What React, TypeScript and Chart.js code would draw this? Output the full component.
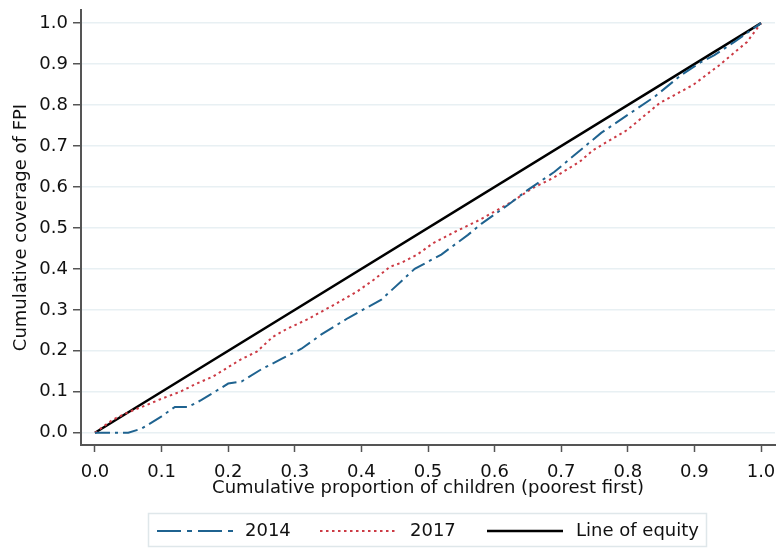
import React, { useEffect, useRef } from "react";
import { Chart, registerables } from "chart.js";

Chart.register(...registerables);

const x2014 = [0, 0.02, 0.05, 0.07, 0.1, 0.12, 0.14, 0.16, 0.18, 0.2, 0.22, 0.25, 0.28, 0.31, 0.34, 0.38, 0.43, 0.46, 0.48, 0.52, 0.56, 0.58, 0.62, 0.65, 0.69, 0.72, 0.76, 0.8, 0.84, 0.88, 0.91, 0.93, 0.96, 1.0];
const y2014 = [0, 0.0, 0.0, 0.01, 0.04, 0.063, 0.063, 0.08, 0.1, 0.12, 0.125, 0.155, 0.18, 0.205, 0.24, 0.28, 0.325, 0.37, 0.4, 0.435, 0.483, 0.51, 0.556, 0.593, 0.637, 0.678, 0.732, 0.776, 0.82, 0.873, 0.905, 0.922, 0.954, 1.0];

const x2017 = [0, 0.027, 0.05, 0.078, 0.1, 0.128, 0.15, 0.177, 0.2, 0.218, 0.243, 0.267, 0.29, 0.318, 0.353, 0.393, 0.42, 0.443, 0.46, 0.483, 0.508, 0.54, 0.578, 0.623, 0.658, 0.688, 0.728, 0.748, 0.799, 0.848, 0.898, 0.938, 0.979, 1.0];
const y2017 = [0, 0.032, 0.05, 0.068, 0.083, 0.1, 0.118, 0.137, 0.16, 0.178, 0.198, 0.234, 0.255, 0.276, 0.307, 0.344, 0.375, 0.405, 0.415, 0.434, 0.463, 0.49, 0.52, 0.561, 0.598, 0.622, 0.662, 0.69, 0.739, 0.805, 0.849, 0.898, 0.954, 1.0];

const xEquity = [0, 1];
const yEquity = [0, 1];

const xTicks = [0, 0.1, 0.2, 0.3, 0.4, 0.5, 0.6, 0.7, 0.8, 0.9, 1.0];
const yTicks = [0, 0.1, 0.2, 0.3, 0.4, 0.5, 0.6, 0.7, 0.8, 0.9, 1.0];

const seriesLabels = ["2014", "2017", "Line of equity"];

const FONT = "'DejaVu Sans', sans-serif";
const FSIZE = 18;

const toPoints = (xs: number[], ys: number[]) => xs.map((x, i) => ({ x, y: ys[i] }));

const legendPlugin = {
  id: "boxLegend",
  afterDraw(chart: any) {
    const ctx = chart.ctx;
    ctx.save();
    ctx.strokeStyle = "#dfe7ea";
    ctx.lineWidth = 1.5;
    ctx.strokeRect(148.5, 513.5, 558, 33);
    const items = [
      { lx: 157, tx: 245 },
      { lx: 320, tx: 410 },
      { lx: 487, tx: 576 },
    ];
    const cy = 531;
    chart.data.datasets.forEach((ds: any, i: number) => {
      const it = items[i];
      ctx.beginPath();
      ctx.strokeStyle = ds.borderColor;
      ctx.lineWidth = ds.borderWidth;
      ctx.setLineDash(ds.legendDash || ds.borderDash || []);
      ctx.moveTo(it.lx, cy);
      ctx.lineTo(it.lx + 76, cy);
      ctx.stroke();
      ctx.setLineDash([]);
      ctx.fillStyle = "#111";
      ctx.font = `${FSIZE}px ${FONT}`;
      ctx.textBaseline = "middle";
      ctx.textAlign = "left";
      ctx.fillText(ds.label, it.tx, cy);
    });
    ctx.restore();
  },
};

export default function App() {
  const ref = useRef<HTMLCanvasElement | null>(null);
  useEffect(() => {
    if (!ref.current) return;
    const chart = new Chart(ref.current, {
      type: "line",
      data: {
        datasets: [
          {
            label: seriesLabels[0],
            data: toPoints(x2014, y2014),
            borderColor: "#1f6390",
            borderWidth: 2,
            borderDash: [15, 5, 3, 5],
            legendDash: [24, 6, 5, 6],
            pointRadius: 0,
            fill: false,
            tension: 0,
          } as any,
          {
            label: seriesLabels[1],
            data: toPoints(x2017, y2017),
            borderColor: "#cc3a44",
            borderWidth: 2,
            borderDash: [2.5, 3.5],
            pointRadius: 0,
            fill: false,
            tension: 0,
          },
          {
            label: seriesLabels[2],
            data: toPoints(xEquity, yEquity),
            borderColor: "#000000",
            borderWidth: 2.5,
            pointRadius: 0,
            fill: false,
            tension: 0,
          },
        ],
      },
      options: {
        animation: false,
        responsive: false,
        devicePixelRatio: 1,
        layout: { padding: { top: 10, right: 2, bottom: 0, left: 0 } },
        plugins: { legend: { display: false }, tooltip: { enabled: false } },
        scales: {
          x: {
            type: "linear",
            min: -0.021,
            max: 1.021,
            afterBuildTicks: (scale: any) => {
              scale.ticks = xTicks.map((v) => ({ value: v }));
            },
            afterFit: (scale: any) => {
              scale.height = 104;
              scale.paddingLeft = 0;
              scale.paddingRight = 0;
            },
            ticks: {
              color: "#111",
              font: { family: FONT, size: FSIZE },
              padding: 10,
              maxRotation: 0,
              autoSkip: false,
              callback: (v: any) => Number(v).toFixed(1),
            },
            grid: { drawOnChartArea: false, tickLength: 7, tickColor: "#555", tickWidth: 1.5 },
            border: { color: "#555", width: 2 },
            title: {
              display: true,
              text: "Cumulative proportion of children (poorest first)",
              color: "#111",
              font: { family: FONT, size: FSIZE },
              padding: { top: 0, bottom: 50 },
            },
          },
          y: {
            type: "linear",
            min: -0.03,
            max: 1.032,
            afterBuildTicks: (scale: any) => {
              scale.ticks = yTicks.map((v) => ({ value: v }));
            },
            afterFit: (scale: any) => {
              scale.width = 81;
              scale.paddingTop = 0;
              scale.paddingBottom = 0;
            },
            ticks: {
              color: "#111",
              font: { family: FONT, size: FSIZE },
              padding: 5,
              autoSkip: false,
              callback: (v: any) => Number(v).toFixed(1),
            },
            grid: { color: "#e8f0f3", lineWidth: 1.5, tickLength: 8, tickColor: "#555", tickWidth: 1.5 },
            border: { color: "#555", width: 2 },
            title: {
              display: true,
              text: "Cumulative coverage of FPI",
              color: "#111",
              font: { family: FONT, size: FSIZE },
              padding: { top: 11, bottom: 0 },
            },
          },
        },
      },
      plugins: [legendPlugin],
    });
    return () => chart.destroy();
  }, []);
  return (
    <div style={{ position: "fixed", left: 0, top: 0, width: 777, height: 549, background: "#fff" }}>
      <canvas ref={ref} width={777} height={549} style={{ width: 777, height: 549 }} />
    </div>
  );
}
